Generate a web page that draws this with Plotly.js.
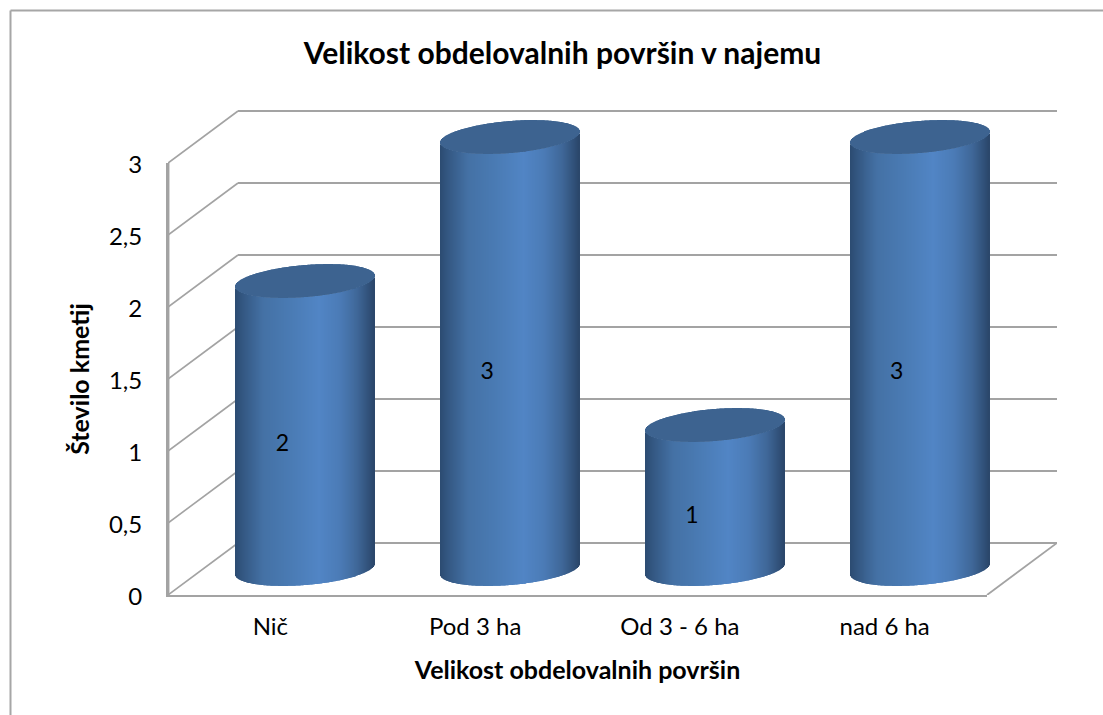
<!DOCTYPE html>
<html>
<head>
<meta charset="utf-8">
<script src="https://cdn.plot.ly/plotly-3.0.1.min.js"></script>
<style>html,body{margin:0;padding:0;background:#fff;overflow:hidden}</style>
</head>
<body>
<div id="chart" style="width:1103px;height:715px"></div>
<script>
// ---- chart data ----
const categories = ['Nič', 'Pod 3 ha', 'Od 3 - 6 ha', 'nad 6 ha'];
const farmers = [2, 3, 1, 3];
const yTicks = [0, 0.5, 1, 1.5, 2, 2.5, 3];
const yTickLabels = ['0', '0,5', '1', '1,5', '2', '2,5', '3'];
const chartTitle = 'Velikost obdelovalnih površin v najemu';
const xTitle = 'Velikost obdelovalnih površin';
const yTitle = 'Število kmetij';

// ---- 3D look (axis units) ----
const W = 1103, H = 715;
const M = {l: 168, r: 46, t: 105, b: 120};
const plotW = W - M.l - M.r, plotH = H - M.t - M.b;
const pxX = 819 / categories.length;       // px per category
const pxY = 432 / 3;                       // px per y unit
const depthX = 70 / pxX, depthY = 52 / pxY;
const halfW = 69.5 / pxX, tilt = 5.5 / pxY, minor = 16 / pxY;
const x2Range = [-0.5, -0.5 + plotW / pxX], y2Range = [0, plotH / pxY];
const slices = 140;
const gridColor = '#a3a3a3';
const bodyStops = [[0, [44, 75, 113]], [0.06, [52, 88, 131]], [0.2, [68, 113, 165]], [0.4, [74, 123, 180]],
                   [0.6, [81, 133, 197]], [0.75, [75, 123, 182]], [0.88, [63, 103, 152]], [0.96, [49, 81, 122]], [1, [42, 70, 106]]];
const topStops = [[0, [61, 99, 144]], [1, [61, 99, 144]]];
const font = 'Lato, Carlito, Calibri, sans-serif';

function shade(stops, f) {
  for (let k = 1; k < stops.length; k++) {
    if (f <= stops[k][0]) {
      const a = stops[k - 1], b = stops[k], r = (f - a[0]) / (b[0] - a[0]);
      return 'rgb(' + a[1].map((c, j) => Math.round(c + (b[1][j] - c) * r)).join(',') + ')';
    }
  }
  return 'rgb(' + stops[stops.length - 1][1].join(',') + ')';
}

const traces = [];
// primary axes carry ticks, titles and the plain values
traces.push({type: 'scatter', mode: 'markers', x: categories.map((_, i) => i), y: farmers,
  marker: {opacity: 0, size: 1}, hoverinfo: 'skip', showlegend: false, xaxis: 'x', yaxis: 'y'});

categories.forEach((name, i) => {
  const value = farmers[i];
  const cx = i + depthX / 2, xs = [], lower = [], span = [], body = [], lid = [];
  for (let n = 0; n < slices; n++) {
    const f = (n + 0.5) / slices, u = 2 * f - 1, r = Math.sqrt(1 - u * u);
    xs.push(cx + u * halfW);
    lower.push(depthY / 2 + tilt * u - minor * r);
    span.push(2 * minor * r);
    body.push(shade(bodyStops, f));
    lid.push(shade(topStops, f));
  }
  traces.push({type: 'bar', name: name, x: xs, y: xs.map(() => value), base: lower,
    width: 1.05 * 2 * halfW / slices, marker: {color: body, line: {width: 0}},
    hoverinfo: 'skip', showlegend: false, xaxis: 'x2', yaxis: 'y2'});
  traces.push({type: 'bar', name: name, x: xs, y: span, base: lower.map(v => v + value),
    width: 1.05 * 2 * halfW / slices, marker: {color: lid, line: {width: 0}},
    hoverinfo: 'skip', showlegend: false, xaxis: 'x2', yaxis: 'y2'});
});

traces.push({type: 'scatter', mode: 'text',
  x: farmers.map((_, i) => i + 12 / pxX), y: farmers.map(v => v / 2 + 5.5 / pxY),
  text: farmers.map(String), textposition: 'middle center',
  textfont: {family: font, size: 23, color: '#000'},
  hoverinfo: 'skip', showlegend: false, xaxis: 'x2', yaxis: 'y2', cliponaxis: false});

const shapes = [];
const wall = {color: gridColor, width: 2};
yTicks.forEach(v => {
  shapes.push({type: 'line', xref: 'x2', yref: 'y2', layer: 'below', x0: -0.5, y0: v, x1: -0.5 + depthX, y1: v + depthY, line: {color: gridColor, width: 1.6}});
  shapes.push({type: 'line', xref: 'x2', yref: 'y2', layer: 'below', x0: -0.5 + depthX, y0: v + depthY, x1: categories.length - 0.5 + depthX, y1: v + depthY, line: wall});
});
shapes.push({type: 'line', xref: 'x2', yref: 'y2', layer: 'below', x0: categories.length - 0.5, y0: 0, x1: categories.length - 0.5 + depthX, y1: depthY, line: {color: gridColor, width: 1.8}});
// value axis line, drawn from the axis range
shapes.push({type: 'line', xref: 'paper', yref: 'y', x0: 0.0005, y0: 0, x1: 0.0005, y1: yTicks[yTicks.length - 1], line: {color: gridColor, width: 2}});
// outer chart frame (open on the right and bottom)
const px = p => (p - M.l) / plotW, py = p => 1 - (p - M.t) / plotH;
shapes.push({type: 'line', xref: 'paper', yref: 'paper', x0: px(10.5), y0: py(10.5), x1: px(W), y1: py(10.5), line: {color: '#a6a6a6', width: 2}});
shapes.push({type: 'line', xref: 'paper', yref: 'paper', x0: px(10.5), y0: py(10.5), x1: px(10.5), y1: py(H), line: {color: '#a6a6a6', width: 2}});

const layout = {
  width: W, height: H, autosize: false,
  margin: M, paper_bgcolor: '#fff', plot_bgcolor: 'rgba(0,0,0,0)',
  barmode: 'overlay', showlegend: false, font: {family: font, color: '#000'},
  title: {text: '<b>' + chartTitle + '</b>', x: 562.5 / W, xanchor: 'center', xref: 'container',
          y: 1 - 53 / H, yanchor: 'middle', yref: 'container', font: {family: font, size: 30, color: '#000'}},
  xaxis: {domain: [0, 819 / plotW], range: [-0.5, categories.length - 0.5], tickmode: 'array',
          tickvals: categories.map((_, i) => i), ticktext: categories,
          showgrid: false, zeroline: false, showline: true, linecolor: gridColor, linewidth: 2,
          ticks: 'outside', ticklen: 9, tickcolor: 'rgba(0,0,0,0)', tickfont: {family: font, size: 24, color: '#000'},
          title: {text: '<b>' + xTitle + '</b>', standoff: 23, font: {family: font, size: 25, color: '#000'}}, anchor: 'y', fixedrange: true},
  yaxis: {domain: [0, 432 / plotH], range: [0, 3], tickmode: 'array', tickvals: yTicks, ticktext: yTickLabels,
          showgrid: false, zeroline: false, showline: true, linecolor: gridColor, linewidth: 2,
          ticks: 'outside', ticklen: 19, ticklabelshift: 2, tickcolor: 'rgba(0,0,0,0)', tickfont: {family: font, size: 24, color: '#000'},
          title: {text: '<b>' + yTitle + '</b>', standoff: 12, font: {family: font, size: 25, color: '#000'}}, anchor: 'x', fixedrange: true},
  xaxis2: {domain: [0, 1], range: x2Range, visible: false, anchor: 'y2', fixedrange: true},
  yaxis2: {domain: [0, 1], range: y2Range, visible: false, anchor: 'x2', fixedrange: true},
  shapes: shapes
};

Plotly.newPlot('chart', traces, layout, {displayModeBar: false});
</script>
</body>
</html>
